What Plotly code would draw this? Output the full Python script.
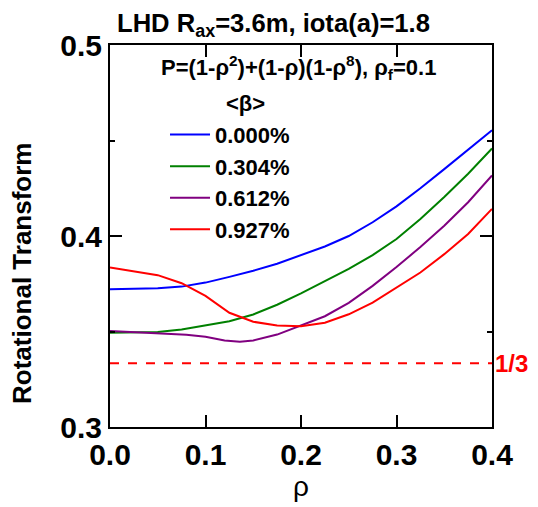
import plotly.graph_objects as go

rho = [0, 0.025, 0.05, 0.075, 0.1, 0.125, 0.15, 0.175, 0.2, 0.225, 0.25, 0.275,
       0.3, 0.325, 0.35, 0.375, 0.4]
iota_000 = [0.3721, 0.3722, 0.3726, 0.3735, 0.3756, 0.3786, 0.3818, 0.3855, 0.3898,
            0.3945, 0.400, 0.4072, 0.4155, 0.425, 0.435, 0.445, 0.4554]
iota_304 = [0.3493, 0.3495, 0.3498, 0.3511, 0.3532, 0.3554, 0.3589, 0.364, 0.370,
            0.3762, 0.3828, 0.390, 0.3984, 0.4089, 0.4204, 0.4326, 0.4458]
rho_612 = [0, 0.025, 0.05, 0.08, 0.1, 0.12, 0.136, 0.15, 0.175, 0.2, 0.225, 0.25,
           0.275, 0.3, 0.325, 0.35, 0.375, 0.4]
iota_612 = [0.3502, 0.3496, 0.349, 0.3483, 0.3472, 0.3453, 0.3446, 0.3453, 0.3484,
            0.353, 0.358, 0.365, 0.3739, 0.3838, 0.3942, 0.4054, 0.4177, 0.4317]
iota_927 = [0.3835, 0.3815, 0.3795, 0.3753, 0.3686, 0.3598, 0.3551, 0.3532, 0.3527,
            0.3546, 0.359, 0.3651, 0.373, 0.3809, 0.3905, 0.4011, 0.4142]
labels = ["0.000%", "0.304%", "0.612%", "0.927%"]
colors = ["#0000ff", "#008000", "#800080", "#ff0000"]
resonance = 1 / 3

FONT = "Liberation Sans, Arial, sans-serif"
PW = 382  # plot width in px
PH = 382  # plot height in px

fig = go.Figure()
series = [(rho, iota_000), (rho, iota_304), (rho_612, iota_612), (rho, iota_927)]
for (x, y), name, c in zip(series, labels, colors):
    fig.add_trace(go.Scatter(x=x, y=y, mode="lines", name=name,
                             line=dict(color=c, width=2)))

fig.add_trace(go.Scatter(x=[0, 0.4], y=[resonance, resonance], mode="lines",
                         line=dict(color="#ff0000", width=2, dash="dash"),
                         showlegend=False))

fig.update_layout(
    width=530, height=499,
    margin=dict(l=102, r=46, t=37, b=80),
    paper_bgcolor="white", plot_bgcolor="white",
    font=dict(family=FONT, color="black"),
    showlegend=True,
    legend=dict(x=0.144, y=0.82, xanchor="left", yanchor="top",
                bgcolor="rgba(0,0,0,0)",
                font=dict(size=22, family=FONT, color="black", weight="bold"),
                tracegroupgap=0, itemwidth=40),
    xaxis=dict(range=[0, 0.4], tickvals=[0, 0.1, 0.2, 0.3, 0.4],
               ticktext=["0.0", "0.1", "0.2", "0.3", "0.4"],
               ticks="inside", ticklen=12, tickwidth=1.5, tickcolor="black",
               showline=True, linewidth=2, linecolor="black", mirror="ticks",
               showgrid=False, zeroline=False, automargin=False,
               tickfont=dict(size=30, family=FONT, weight="bold"),
               title=dict(text="ρ", font=dict(size=28, family=FONT), standoff=3)),
    yaxis=dict(range=[0.3, 0.5], tickvals=[0.3, 0.4, 0.5],
               ticktext=["0.3", "0.4", "0.5"],
               ticks="inside", ticklen=12, tickwidth=1.5, tickcolor="black",
               minor=dict(tickvals=[0.35, 0.45], ticks="inside", ticklen=5,
                          tickwidth=1.5, tickcolor="black", showgrid=False),
               showline=True, linewidth=2, linecolor="black", mirror="ticks",
               showgrid=False, zeroline=False, automargin=False,
               tickfont=dict(size=30, family=FONT, weight="bold")),
)

# y-axis title (placed as annotation for exact position)
fig.add_annotation(xref="paper", yref="paper", x=(22 - 110) / PW, y=1 - (274 - 45) / PH,
                   xanchor="center", yanchor="middle", textangle=-90,
                   text="<b>Rotational Transform</b>", showarrow=False,
                   font=dict(size=26, family=FONT))
fig.add_annotation(xref="paper", yref="paper", x=(273 - 110) / PW, y=1 - (25 - 45) / PH,
                   xanchor="center", yanchor="middle",
                   text="<b>LHD R<sub>ax</sub>=3.6m, iota(a)=1.8</b>",
                   showarrow=False, font=dict(size=25.6, family=FONT))
fig.add_annotation(xref="paper", yref="paper", x=(298 - 110) / PW, y=1 - (67 - 45) / PH,
                   xanchor="center", yanchor="middle",
                   text="<b>P=(1-ρ<sup>2</sup>)+(1-ρ)(1-ρ<sup>8</sup>), ρ<sub>f</sub>=0.1</b>",
                   showarrow=False, font=dict(size=22, family=FONT))
fig.add_annotation(xref="paper", yref="paper", x=(245 - 110) / PW, y=1 - (103 - 45) / PH,
                   xanchor="center", yanchor="middle",
                   text="<b><β></b>", showarrow=False, font=dict(size=22, family=FONT))
fig.add_annotation(xref="paper", yref="y", x=1.0, y=resonance, xanchor="left",
                   yanchor="middle", xshift=1, text="<b>1/3</b>", showarrow=False,
                   font=dict(size=24, family=FONT, color="#ff0000"))

fig.write_html("out.html")
